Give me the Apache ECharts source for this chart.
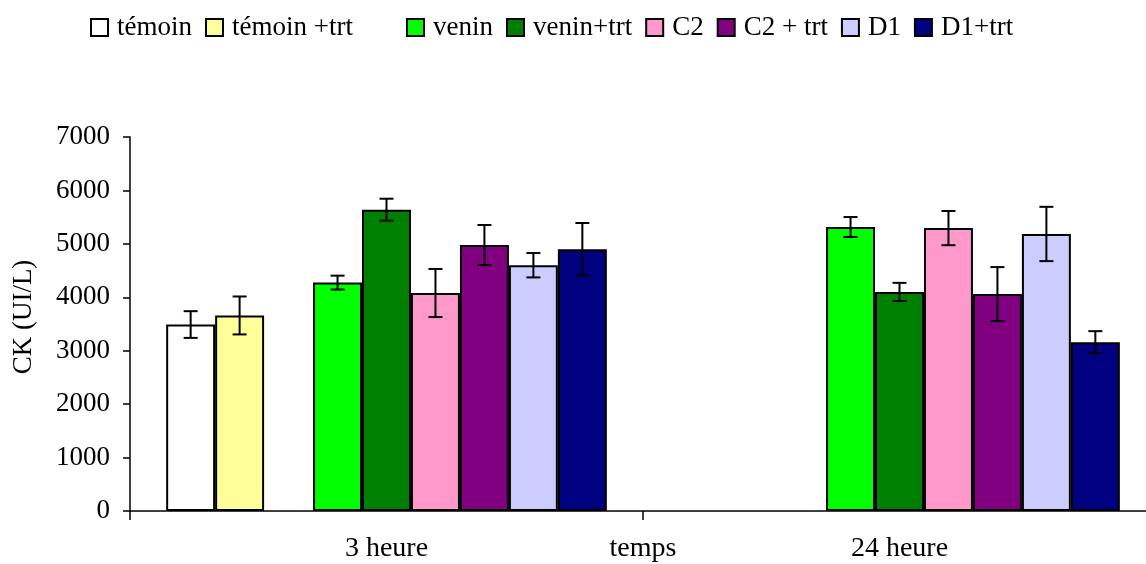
<!DOCTYPE html>
<html>
<head>
<meta charset="utf-8">
<script src="https://cdn.jsdelivr.net/npm/echarts@6/dist/echarts.min.js"></script>
<style>
  html, body { margin: 0; padding: 0; background: #fff; }
  #chart { width: 1146px; height: 564px; }
</style>
</head>
<body>
<div id="chart"></div>
<script>
// Sampling times (x categories)
const categories = ['3 heure', '24 heure'];
const yTicks = { min: 0, max: 7000, interval: 1000 };

// Mean CK activity (UI/L) per group, and standard error
const temoin        = [3490, null];
const temoinErr     = [250, null];
const temoinTrt     = [3660, null];
const temoinTrtErr  = [355, null];
const venin         = [4275, 5315];
const veninErr      = [130, 187];
const veninTrt      = [5640, 4100];
const veninTrtErr   = [205, 170];
const c2            = [4080, 5295];
const c2Err         = [450, 320];
const c2Trt         = [4978, 4060];
const c2TrtErr      = [375, 505];
const d1            = [4600, 5185];
const d1Err         = [228, 508];
const d1Trt         = [4900, 3160];
const d1TrtErr      = [490, 206];

// Group definitions; the empty slot keeps a bar-wide space after the controls
const groups = [
  { name: 'témoin',      values: temoin,    errors: temoinErr,    color: '#FFFFFF' },
  { name: 'témoin +trt', values: temoinTrt, errors: temoinTrtErr, color: '#FFFF99' },
  { name: '_vide',       values: [null, null], errors: [null, null], color: 'transparent', spacer: true },
  { name: 'venin',       values: venin,     errors: veninErr,     color: '#00FF00' },
  { name: 'venin+trt',   values: veninTrt,  errors: veninTrtErr,  color: '#008000' },
  { name: 'C2',          values: c2,        errors: c2Err,        color: '#FF99CC' },
  { name: 'C2 + trt',    values: c2Trt,     errors: c2TrtErr,     color: '#800080' },
  { name: 'D1',          values: d1,        errors: d1Err,        color: '#CCCCFF' },
  { name: 'D1+trt',      values: d1Trt,     errors: d1TrtErr,     color: '#000080' }
];

const FONT = 'Liberation Serif';
const CAT_GAP = 0.141;
const SLOTS = groups.length;

const barSeries = groups.map(g => ({
  name: g.name,
  type: 'bar',
  data: g.values,
  barGap: '0%',
  barCategoryGap: (CAT_GAP * 100) + '%',
  itemStyle: g.spacer
    ? { color: 'transparent', borderWidth: 0 }
    : { color: g.color, borderColor: '#000', borderWidth: 2 },
  emphasis: { disabled: true },
  animation: false
}));

// Error bars drawn on top of each bar slot
const errorSeries = groups.map((g, slot) => ({
  name: g.name + ' err',
  type: 'custom',
  silent: true,
  z: 5,
  animation: false,
  encode: { x: 0, y: 1 },
  data: g.values
    .map((v, i) => (v == null ? null : [i, v, g.errors[i]]))
    .filter(d => d !== null),
  renderItem: function (params, api) {
    const ci = api.value(0);
    const v = api.value(1);
    const e = api.value(2);
    const band = api.size([1, 0])[0];
    const groupW = band * (1 - CAT_GAP);
    const bw = groupW / SLOTS;
    const center = api.coord([ci, v]);
    const x = center[0] - groupW / 2 + (slot + 0.5) * bw;
    const yHi = api.coord([ci, v + e])[1];
    const yLo = api.coord([ci, v - e])[1];
    const cap = 7;
    const style = { stroke: '#000', lineWidth: 2 };
    return {
      type: 'group',
      children: [
        { type: 'line', shape: { x1: x, y1: yHi, x2: x, y2: yLo }, style },
        { type: 'line', shape: { x1: x - cap, y1: yHi, x2: x + cap, y2: yHi }, style },
        { type: 'line', shape: { x1: x - cap, y1: yLo, x2: x + cap, y2: yLo }, style }
      ]
    };
  }
}));

const legendCommon = {
  orient: 'horizontal',
  icon: 'rect',
  itemWidth: 17,
  itemHeight: 17,
  itemGap: 13,
  top: 14,
  padding: 0,
  selectedMode: false,
  itemStyle: { borderColor: '#000', borderWidth: 2 },
  textStyle: { fontFamily: FONT, fontSize: 27, color: '#000', padding: [0, 0, 0, 4] }
};

const option = {
  backgroundColor: '#fff',
  animation: false,
  textStyle: { fontFamily: FONT },
  legend: [
    Object.assign({}, legendCommon, { left: 90, data: ['témoin', 'témoin +trt'] }),
    Object.assign({}, legendCommon, { left: 406, data: ['venin', 'venin+trt', 'C2', 'C2 + trt', 'D1', 'D1+trt'] })
  ],
  grid: { left: 130, right: -10, top: 137, bottom: 53, containLabel: false, outerBoundsMode: 'none' },
  xAxis: {
    type: 'category',
    data: categories,
    name: 'temps',
    nameLocation: 'middle',
    nameGap: 24,
    nameMoveOverlap: false,
    nameTextStyle: { fontFamily: FONT, fontSize: 28, color: '#000', verticalAlign: 'top' },
    axisLine: { lineStyle: { color: '#000', width: 1.5 } },
    axisTick: { show: true, length: 9, lineStyle: { color: '#000', width: 1.5 } },
    axisLabel: { fontFamily: FONT, fontSize: 28, color: '#000', margin: 24 },
    splitLine: { show: false }
  },
  yAxis: {
    type: 'value',
    min: yTicks.min,
    max: yTicks.max,
    interval: yTicks.interval,
    name: 'CK (UI/L)',
    nameLocation: 'middle',
    nameRotate: 90,
    nameGap: 93,
    nameMoveOverlap: false,
    nameTextStyle: { fontFamily: FONT, fontSize: 27, color: '#000', padding: [0, 0, 0, 14] },
    axisLine: { show: true, lineStyle: { color: '#000', width: 1.5 } },
    axisTick: { show: true, length: 7, lineStyle: { color: '#000', width: 1.5 } },
    axisLabel: {
      fontFamily: FONT, fontSize: 27, color: '#000', margin: 20,
      formatter: v => String(v)
    },
    splitLine: { show: false }
  },
  series: barSeries.concat(errorSeries)
};

const chart = echarts.init(document.getElementById('chart'), null, { renderer: 'canvas' });
chart.setOption(option);
</script>
</body>
</html>
